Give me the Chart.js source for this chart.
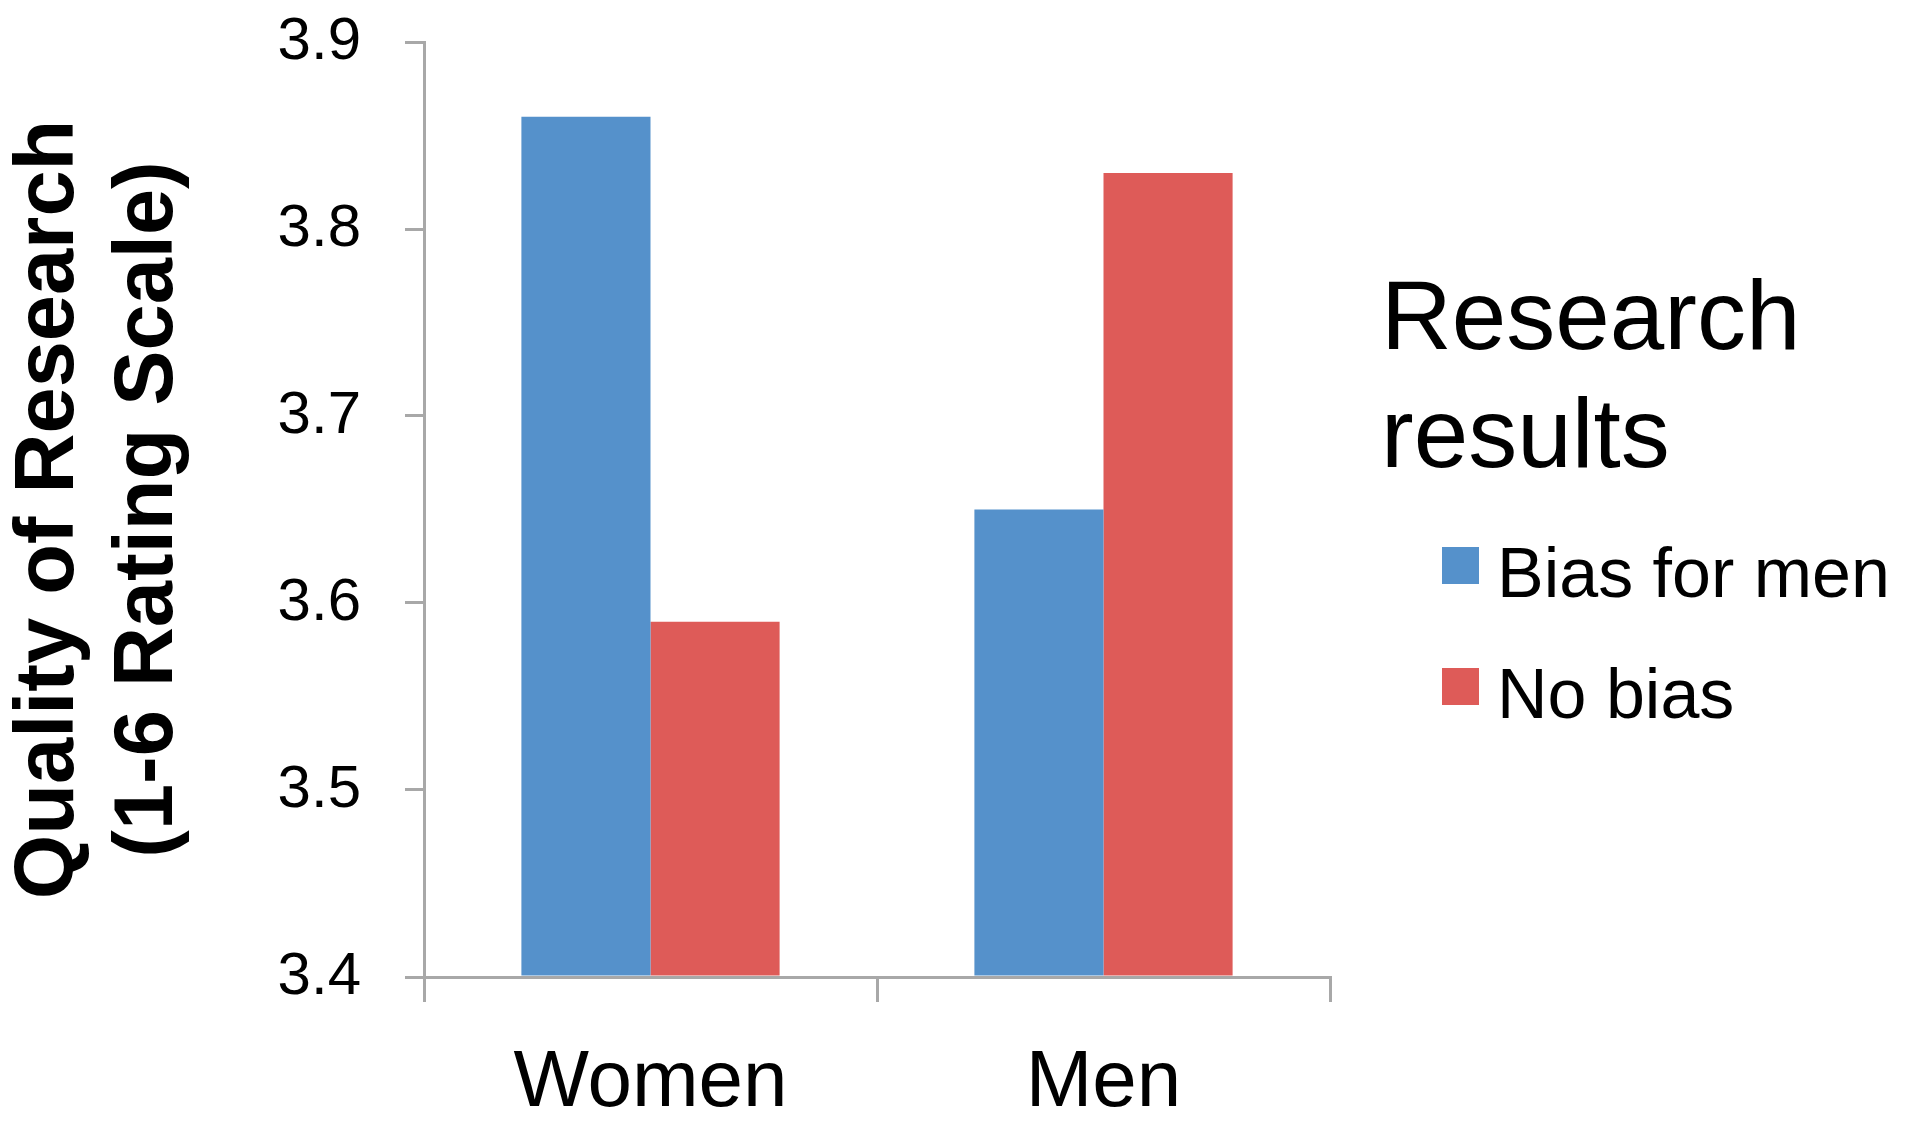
<!DOCTYPE html>
<html>
<head>
<meta charset="utf-8">
<script src="https://cdn.jsdelivr.net/npm/chart.js@4.4.1/dist/chart.umd.min.js"></script>
<style>
  body { margin: 0; background: #fff; }
  #wrap { width: 1920px; height: 1129px; position: relative; }
</style>
</head>
<body>
<div id="wrap"><canvas id="quality-chart"></canvas></div>
<script>
// data
const categories = ['Women', 'Men'];
const biasForMen = [3.86, 3.65];
const noBias = [3.59, 3.83];
const yTicks = [3.4, 3.5, 3.6, 3.7, 3.8, 3.9];
const yTitle = ['Quality of Research', '(1-6 Rating Scale)'];
const legendTitle = ['Research', 'results'];

const axisGray = '#a8a8a8';
const font = "'Liberation Sans', Arial, sans-serif";

// legend drawn by hand so the two-line title sits like the original
const sideLegend = {
    id: 'sideLegend',
    afterDraw(chart) {
        const ctx = chart.ctx;
        ctx.save();
        ctx.fillStyle = '#000';
        ctx.textAlign = 'left';
        ctx.textBaseline = 'alphabetic';
        ctx.font = '98px ' + font;
        legendTitle.forEach((line, i) => ctx.fillText(line, 1381, 349 + i * 118));
        ctx.font = '70px ' + font;
        chart.data.datasets.forEach((ds, i) => {
            const y = 597 + i * 121;
            ctx.fillStyle = ds.backgroundColor;
            ctx.fillRect(1442, y - 50, 37, 37);
            ctx.fillStyle = '#000';
            ctx.fillText(ds.label, 1497, y);
        });
        ctx.restore();
    }
};

var bars = document.getElementById('quality-chart').getContext('2d');
var qualityChart = new Chart(bars, {
    type: 'bar',
    data: {
        labels: categories,
        datasets: [{
            label: 'Bias for men',
            data: biasForMen,
            backgroundColor: '#5591cb',
            base: yTicks[0],
            borderWidth: 0,
            categoryPercentage: 0.57,
            barPercentage: 1.0
        }, {
            label: 'No bias',
            data: noBias,
            backgroundColor: '#de5b58',
            base: yTicks[0],
            borderWidth: 0,
            categoryPercentage: 0.57,
            barPercentage: 1.0
        }]
    },
    options: {
        responsive: true,
        maintainAspectRatio: false,
        animation: false,
        layout: {
            padding: { left: 0, top: 42, right: 590, bottom: 0 }
        },
        scales: {
            x: {
                grid: {
                    drawOnChartArea: false,
                    drawTicks: true,
                    tickLength: 25,
                    color: axisGray,
                    lineWidth: 3
                },
                border: { color: axisGray, width: 3 },
                ticks: {
                    color: '#000',
                    padding: 34,
                    maxRotation: 0,
                    font: { family: font, size: 80, lineHeight: 1.2 }
                },
                afterFit: function (scale) { scale.height = 152; }
            },
            y: {
                min: yTicks[0],
                max: yTicks[yTicks.length - 1],
                afterBuildTicks: function (scale) {
                    scale.ticks = yTicks.map(v => ({ value: v }));
                },
                grid: {
                    drawOnChartArea: false,
                    drawTicks: true,
                    tickLength: 19,
                    color: axisGray,
                    lineWidth: 3
                },
                border: { color: axisGray, width: 3 },
                ticks: {
                    color: '#000',
                    padding: 44,
                    font: { family: font, size: 60, lineHeight: 1.2 },
                    callback: function (value) { return Number(value).toFixed(1); }
                },
                title: {
                    display: true,
                    text: yTitle,
                    color: '#000',
                    padding: 0,
                    font: { family: font, size: 83, weight: 'bold', lineHeight: 1.2 }
                },
                afterFit: function (scale) {
                    scale.width = 424;
                    scale.paddingTop = 0;
                    scale.paddingBottom = 0;
                }
            }
        },
        plugins: {
            legend: false,
            tooltip: { enabled: false }
        }
    },
    plugins: [sideLegend]
});
</script>
</body>
</html>
